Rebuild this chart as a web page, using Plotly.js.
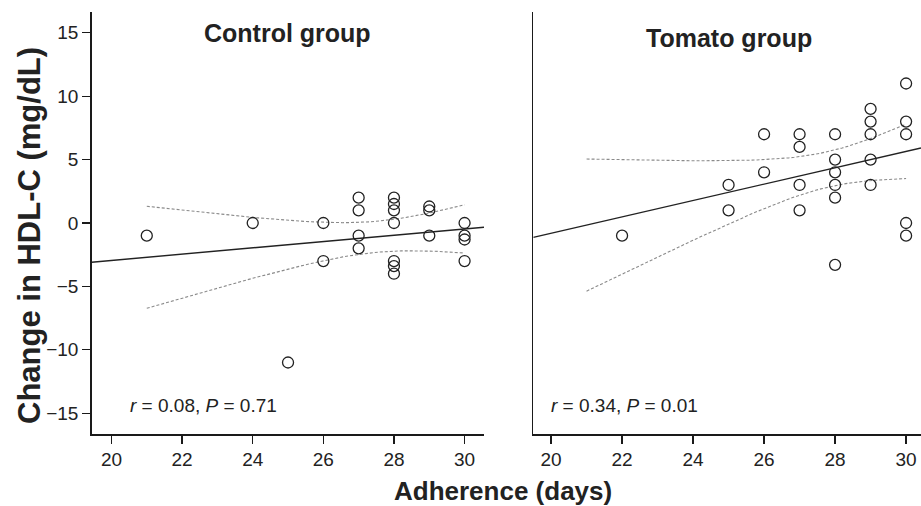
<!DOCTYPE html>
<html>
<head>
<meta charset="utf-8">
<script src="https://cdn.plot.ly/plotly-3.0.1.min.js"></script>
<style>html,body{margin:0;padding:0;background:#fff;}#chart{width:921px;height:506px;}</style>
</head>
<body>
<div id="chart"></div>
<script>
// ---- Data ----
const controlDays = [21, 24, 25, 26, 26, 27, 27, 27, 27, 28, 28, 28, 28, 28, 28, 28, 29, 29, 29, 30, 30, 30, 30];
const controlHDL  = [-1, 0, -11, 0, -3, 2, 1, -1, -2, 2, 1.5, 1, 0, -3, -3.4, -4, 1.3, 1, -1, 0, -1, -1.3, -3];
const tomatoDays  = [22, 25, 25, 26, 26, 27, 27, 27, 27, 28, 28, 28, 28, 28, 28, 29, 29, 29, 29, 29, 30, 30, 30, 30, 30];
const tomatoHDL   = [-1, 3, 1, 7, 4, 7, 6, 3, 1, 7, 5, 4, 3, 2, -3.3, 9, 8, 7, 5, 3, 11, 8, 7, 0, -1];
const panelTitles = ["Control group", "Tomato group"];
const statLabels  = ["<i>r</i> = 0.08, <i>P</i> = 0.71", "<i>r</i> = 0.34, <i>P</i> = 0.01"];
const yTicks      = [-15, -10, -5, 0, 5, 10, 15];
const xTicks      = [20, 22, 24, 26, 28, 30];

const xRangeL = [19.44, 30.55];
const xRangeR = [19.50, 30.42];
const yRange  = [-16.64, 16.64];

// ---- OLS fit with 95% confidence band ----
function tCrit(df) {
  const z = 1.959964;
  return z + (z*z*z + z) / (4*df) + (5*Math.pow(z,5) + 16*z*z*z + 3*z) / (96*df*df)
           + (3*Math.pow(z,7) + 19*Math.pow(z,5) + 17*z*z*z - 15*z) / (384*df*df*df);
}
function fit(xs, ys) {
  const n = xs.length;
  const mx = xs.reduce((a,b)=>a+b,0)/n, my = ys.reduce((a,b)=>a+b,0)/n;
  let sxx=0, sxy=0;
  for (let i=0;i<n;i++){ sxx+=(xs[i]-mx)**2; sxy+=(xs[i]-mx)*(ys[i]-my); }
  const b = sxy/sxx, a = my - b*mx;
  let sse=0; for (let i=0;i<n;i++){ sse += (ys[i]-a-b*xs[i])**2; }
  const s = Math.sqrt(sse/(n-2));
  return {a, b, mx, sxx, s, n, t: tCrit(n-2)};
}
const allDays = controlDays.concat(tomatoDays);
const bandLo = Math.min(...allDays), bandHi = Math.max(...allDays);

function tracesFor(xs, ys, xRange, xa, ya) {
  const f = fit(xs, ys);
  const bx = [], up = [], lo = [];
  const N = 60;
  for (let k=0;k<=N;k++){
    const x = bandLo + (bandHi-bandLo)*k/N;
    const yhat = f.a + f.b*x;
    const h = f.t * f.s * Math.sqrt(1/f.n + (x-f.mx)**2/f.sxx);
    bx.push(x); up.push(yhat+h); lo.push(yhat-h);
  }
  const lineStyle = {color:'#8a8a8a', width:1.1, dash:'3px,2px'};
  return [
    {x:bx, y:up, xaxis:xa, yaxis:ya, mode:'lines', line:lineStyle, hoverinfo:'skip', showlegend:false},
    {x:bx, y:lo, xaxis:xa, yaxis:ya, mode:'lines', line:lineStyle, hoverinfo:'skip', showlegend:false},
    {x:xRange, y:xRange.map(x=>f.a+f.b*x), xaxis:xa, yaxis:ya, mode:'lines',
     line:{color:'#222', width:1.4}, showlegend:false},
    {x:xs, y:ys, xaxis:xa, yaxis:ya, mode:'markers',
     marker:{symbol:'circle-open', size:11, color:'#222', line:{width:1.3, color:'#222'}}, showlegend:false}
  ];
}

const data = tracesFor(controlDays, controlHDL, xRangeL, 'x', 'y')
  .concat(tracesFor(tomatoDays, tomatoHDL, xRangeR, 'x2', 'y2'));

const W = 921, H = 506, mt = 12, mb = 72;
const plotH = H - mt - mb;
const px = v => v / W;
const py = v => (H - mb - v) / plotH;

const fam = 'Liberation Sans, Arial, Helvetica, sans-serif';
const fontReg = {family:fam, size:19, color:'#222'};
const fontBold = {family:fam, size:25, color:'#222', weight:'bold'};
const fontXTitle = {family:fam, size:26, color:'#222', weight:'bold'};
const fontYTitle = {family:fam, size:31, color:'#222', weight:'bold'};

const axisCommon = {
  showgrid:false, zeroline:false, showline:true, linecolor:'#1a1a1a', linewidth:1.5,
  ticks:'outside', ticklen:8, tickwidth:1.3, tickcolor:'#1a1a1a', tickfont:fontReg
};

const layout = {
  width:W, height:H,
  margin:{l:0, r:0, t:mt, b:mb, pad:0},
  paper_bgcolor:'#fff', plot_bgcolor:'#fff',
  font:fontReg,
  xaxis: Object.assign({}, axisCommon, {domain:[px(91.7), px(484)], range:xRangeL, tickvals:xTicks, anchor:'y'}),
  yaxis: Object.assign({}, axisCommon, {domain:[0,1], range:yRange, tickvals:yTicks, anchor:'x'}),
  xaxis2: Object.assign({}, axisCommon, {domain:[px(533.3), 1], range:xRangeR, tickvals:xTicks, anchor:'y2'}),
  yaxis2: Object.assign({}, axisCommon, {domain:[0,1], range:yRange, anchor:'x2', ticks:'', showticklabels:false}),
  annotations:[
    {text:'<b>'+panelTitles[0]+'</b>', xref:'paper', yref:'paper', x:px(287.5), y:py(33), xanchor:'center', yanchor:'middle', showarrow:false, font:fontBold},
    {text:'<b>'+panelTitles[1]+'</b>', xref:'paper', yref:'paper', x:px(729), y:py(38), xanchor:'center', yanchor:'middle', showarrow:false, font:fontBold},
    {text:statLabels[0], xref:'paper', yref:'paper', x:px(128), y:py(405), xanchor:'left', yanchor:'middle', showarrow:false, font:fontReg},
    {text:statLabels[1], xref:'paper', yref:'paper', x:px(549), y:py(405), xanchor:'left', yanchor:'middle', showarrow:false, font:fontReg},
    {text:'<b>Adherence (days)</b>', xref:'paper', yref:'paper', x:px(503), y:py(491), xanchor:'center', yanchor:'middle', showarrow:false, font:fontXTitle},
    {text:'<b>Change in HDL-C (mg/dL)</b>', xref:'paper', yref:'paper', x:px(30), y:py(236), xanchor:'center', yanchor:'middle', textangle:-90, showarrow:false, font:fontYTitle}
  ]
};

Plotly.newPlot('chart', data, layout, {displayModeBar:false, staticPlot:true});
</script>
</body>
</html>
